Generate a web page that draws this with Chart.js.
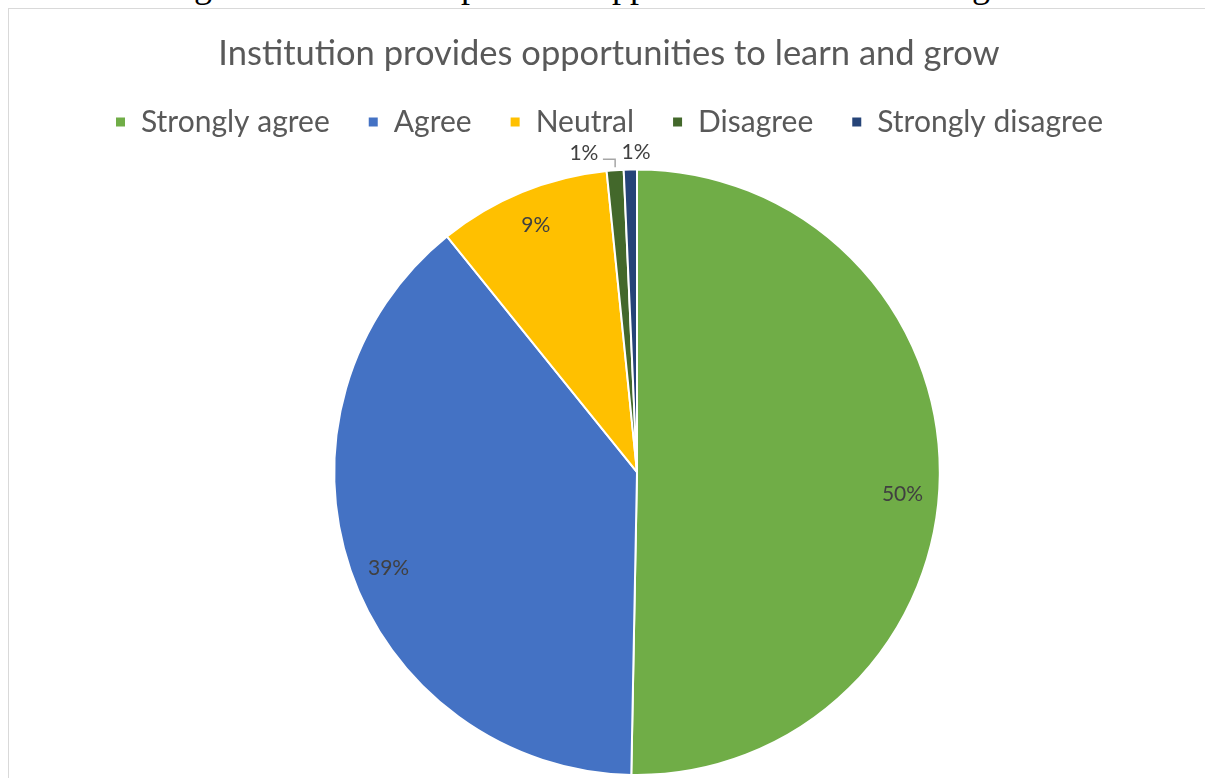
<!DOCTYPE html>
<html>
<head>
<meta charset="utf-8">
<script src="https://cdn.jsdelivr.net/npm/chart.js@4"></script>
<style>
  html, body { margin: 0; padding: 0; background: #fff; overflow: hidden; }
  body { width: 1205px; height: 778px; position: relative; }
  .caption {
    position: absolute; left: 0; width: 1210px; top: -33px; text-align: center;
    font-family: "Liberation Serif", serif; font-size: 36px; line-height: 36px; color: #000;
    white-space: nowrap;
  }
  .frame {
    position: absolute; left: 8px; top: 8px; width: 1220px; height: 800px;
    border: 1px solid #d9d9d9; box-sizing: border-box;
  }
  .wrap { position: absolute; left: 0; top: 0; width: 1218px; height: 778px; }
</style>
</head>
<body>
<div class="caption">Figure 6: Institution provides opportunities to learn and grow</div>
<div class="frame"></div>
<div class="wrap"><canvas id="myChart"></canvas></div>
<script>
const categories = ['Strongly agree', 'Agree', 'Neutral', 'Disagree', 'Strongly disagree'];
const percentages = [50.3, 38.9, 9.2, 0.9, 0.7];
const pctLabels = ['50%', '39%', '9%', '1%', '1%'];
const sliceColors = ['#70AD47', '#4472C4', '#FFC000', '#43682B', '#264478'];

// data labels, drawn like Excel's "best fit"
const sliceLabels = {
    id: 'sliceLabels',
    afterDatasetsDraw(chart) {
        const ctx = chart.ctx;
        const meta = chart.getDatasetMeta(0);
        const nudge = [0.075, -0.04, 0, 0, 0]; // Excel does not put labels exactly mid-slice
        ctx.save();
        ctx.font = '21px Lato';
        ctx.fillStyle = '#404040';
        ctx.textAlign = 'center';
        ctx.textBaseline = 'middle';
        meta.data.forEach((arc, i) => {
            const p = arc.getProps(['x', 'y', 'startAngle', 'endAngle', 'outerRadius'], true);
            const mid = (p.startAngle + p.endAngle) / 2 + nudge[i];
            const span = p.endAngle - p.startAngle;
            if (span > 0.2) {
                const r = p.outerRadius * 0.88;
                ctx.fillText(pctLabels[i], p.x + Math.cos(mid) * r, p.y + Math.sin(mid) * r);
            } else {
                const r = p.outerRadius + 17;
                const ex = p.x + Math.cos(mid) * p.outerRadius;
                const ey = p.y + Math.sin(mid) * p.outerRadius;
                let lx = p.x + Math.cos(mid) * r;
                const ly = p.y + Math.sin(mid) * r;
                if (i === 3) {
                    lx -= 30;
                    // leader line
                    ctx.strokeStyle = '#a6a6a6';
                    ctx.lineWidth = 1.5;
                    ctx.beginPath();
                    ctx.moveTo(lx + 19, ly + 6);
                    ctx.lineTo(ex, ly + 6);
                    ctx.lineTo(ex, ey - 3);
                    ctx.stroke();
                } else {
                    lx += 6;
                }
                ctx.fillText(pctLabels[i], lx, ly);
            }
        });
        ctx.restore();
    }
};

// Excel centres title and legend on the frame, the pie sits slightly to the right
const shiftBoxes = {
    id: 'shiftBoxes',
    afterLayout(chart) {
        [chart.titleBlock, chart.legend].forEach(b => {
            if (!b) return;
            b.left = 0;
            b.right = 1218;
            b.width = 1218;
        });
        const lg = chart.legend;
        lg.top = 69;
        lg.bottom = lg.top + lg.height;
    }
};

new Chart(document.getElementById('myChart'), {
    type: 'pie',
    data: {
        labels: categories,
        datasets: [{
            data: percentages,
            backgroundColor: sliceColors,
            borderColor: '#ffffff',
            borderWidth: 2
        }]
    },
    options: {
        responsive: true,
        maintainAspectRatio: false,
        animation: false,
        layout: { padding: { left: 69, right: 13, top: 0, bottom: 2 } },
        plugins: {
            title: {
                display: true,
                text: 'Institution provides opportunities to learn and grow',
                color: '#595959',
                font: { family: 'Lato', size: 34.5, weight: 'normal' },
                padding: { top: 33, bottom: 16 }
            },
            legend: {
                display: true,
                position: 'top',
                labels: {
                    color: '#595959',
                    font: { family: 'Lato', size: 30 },
                    boxWidth: 11,
                    boxHeight: 11,
                    padding: 38
                }
            },
            tooltip: { enabled: false }
        }
    },
    plugins: [sliceLabels, shiftBoxes]
});
</script>
</body>
</html>
